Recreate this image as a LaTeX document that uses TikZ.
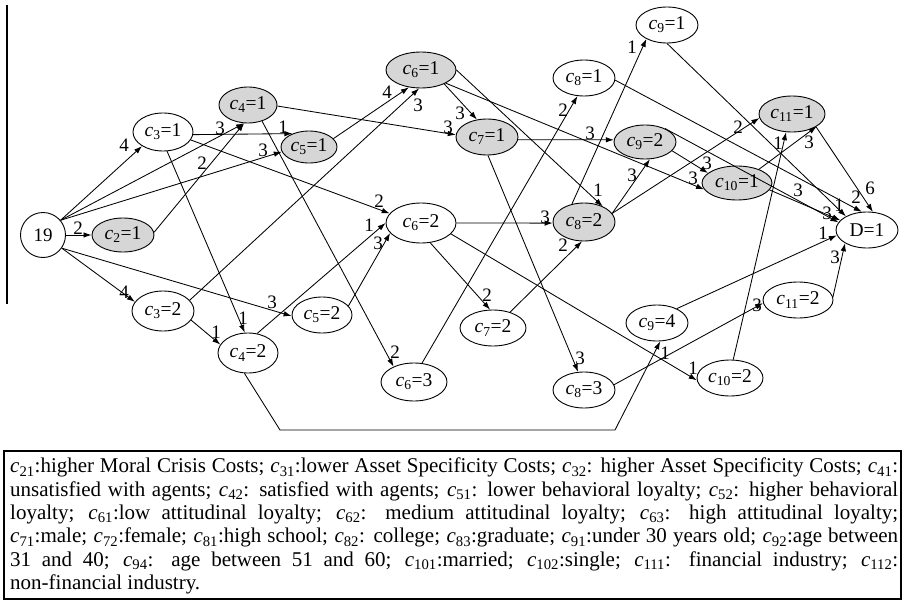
\documentclass[tikz,border=0pt]{standalone}
\usepackage{fontspec}
\setmainfont{Liberation Serif}
\usetikzlibrary{shapes.geometric,arrows.meta}
\newcommand{\csub}[1]{\textit{c}\textsubscript{#1}}
\begin{document}
\begin{tikzpicture}[x=1pt,y=-1pt,
  state/.style={ellipse, draw, line width=0.9pt, inner sep=0pt,
    font=\fontsize{19.5}{21}\selectfont},
  sz/.style 2 args={minimum width=#1, minimum height=#2},
  shaded/.style={fill=gray!32},
  arr/.style={-{Latex[length=8pt,width=5.5pt]}, line width=0.85pt},
  lbl/.style={inner sep=0pt, font=\fontsize{19}{21}\selectfont},
  frame/.style={line width=1.2pt}]
\useasboundingbox (0,0) rectangle (905,602);

% root and sink
\node[circle, draw, line width=0.9pt, minimum size=45pt, inner sep=0pt,
  font=\fontsize{19}{21}\selectfont] (n19) at (43,235) {19};
\node[state, sz={62pt}{36pt}] (D) at (867,230) {D=1};

% upper states
\node[state, shaded, sz={62pt}{34pt}] (c21) at (123,235) {\csub{2}=1};
\node[state, sz={60pt}{38pt}] (c31) at (163,132) {\csub{3}=1};
\node[state, shaded, sz={58pt}{36pt}] (c41) at (248,105) {\csub{4}=1};
\node[state, shaded, sz={56pt}{32pt}] (c51) at (309,147) {\csub{5}=1};
\node[state, shaded, sz={70pt}{36pt}] (c61) at (421,70) {\csub{6}=1};
\node[state, shaded, sz={62pt}{36pt}] (c71) at (487,137) {\csub{7}=1};
\node[state, sz={62pt}{36pt}] (c81) at (584,78) {\csub{8}=1};
\node[state, sz={62pt}{36pt}] (c91) at (667,25) {\csub{9}=1};
\node[state, shaded, sz={62pt}{34pt}] (c92) at (645,142) {\csub{9}=2};
\node[state, shaded, sz={70pt}{34pt}] (c101) at (737,183) {\csub{10}=1};
\node[state, shaded, sz={66pt}{36pt}] (c111) at (792,114) {\csub{11}=1};

% middle and lower states
\node[state, sz={70pt}{40pt}] (c62) at (421,223) {\csub{6}=2};
\node[state, shaded, sz={62pt}{38pt}] (c82) at (584,222) {\csub{8}=2};
\node[state, sz={62pt}{40pt}] (c32) at (163,311) {\csub{3}=2};
\node[state, sz={60pt}{40pt}] (c42) at (248,353) {\csub{4}=2};
\node[state, sz={60pt}{36pt}] (c52) at (322,315) {\csub{5}=2};
\node[state, sz={66pt}{38pt}] (c63) at (414,382) {\csub{6}=3};
\node[state, sz={66pt}{36pt}] (c72) at (493,328) {\csub{7}=2};
\node[state, sz={62pt}{36pt}] (c83) at (584,390) {\csub{8}=3};
\node[state, sz={62pt}{36pt}] (c94) at (657,323) {\csub{9}=4};
\node[state, sz={66pt}{36pt}] (c102) at (730,378) {\csub{10}=2};
\node[state, sz={70pt}{36pt}] (c112) at (798,300) {\csub{11}=2};

% bends of the lower detour
\coordinate (b1) at (280,430);
\coordinate (b2) at (615,430);

% connectors with their weights
\draw[arr] (n19.40) -- (c31.214) node[lbl] (w1) at (124,145) {4};
\draw[arr] (n19.40) -- (c41.258) node[lbl] (w2) at (220,128) {3};
\draw[arr] (n19.40) -- (c51.190) node[lbl] (w3) at (263,150) {3};
\draw[arr] (n19.east) -- (c21.west) node[lbl] (w4) at (78,228) {2};
\draw[arr] (n19.-35) -- (c32.162) node[lbl] (w5) at (124,292) {4};
\draw[arr] (n19.-35) -- (c52.182) node[lbl] (w6) at (272,302) {3};
\draw[arr] (c21.5) -- (c41.258) node[lbl] (w7) at (202,163) {2};
\draw[arr] (c31.-5) -- (c51.141) node[lbl] (w8) at (283,127) {1};
\draw[arr] (c31.-16) -- (c62.163) node[lbl] (w9) at (379,201) {2};
\draw[arr] (c31.-78) -- (c42.99) node[lbl] (w10) at (243,318) {1};
\draw[arr] (c41.-2) -- (c71.176) node[lbl] (w11) at (448,127) {3};
\draw[arr] (c41.-49) -- (c63.143) node[lbl] (w12) at (395,352) {2};
\draw[arr] (c51.19) -- (c61.235) node[lbl] (w13) at (387,92) {4};
\draw[arr] (c32.-18) -- (c42.163) node[lbl] (w14) at (216,332) {1};
\draw[arr] (c32.22) -- (c61.264) node[lbl] (w15) at (418,105) {3};
\draw[arr] (c42.65) -- (c62.180) node[lbl] (w16) at (369,225) {1};
\draw[arr] (c42.260) -- (b1) -- (b2) -- (c94.280) node[lbl] (w17) at (665,353) {1};
\draw[arr] (c52.19) -- (c62.198) node[lbl] (w18) at (378,243) {3};
\draw[arr] (c61.-31) -- (c71.120) node[lbl] (w19) at (460,113) {3};
\draw[arr] (c61.0) -- (c82.40) node[lbl] (w20) at (598,190) {1};
\draw[arr] (c61.-28) -- (c101.191) node[lbl] (w21) at (693,178) {3};
\draw[arr] (c71.-5) -- (c92.176) node[lbl] (w22) at (590,133) {3};
\draw[arr] (c71.-87) -- (c83.108) node[lbl] (w23) at (580,358) {3};
\draw[arr] (c62.0) -- (c82.182) node[lbl] (w24) at (545,217) {3};
\draw[arr] (c62.-65) -- (c72.99) node[lbl] (w25) at (487,295) {2};
\draw[arr] (c62.-20) -- (c102.184) node[lbl] (w26) at (693,368) {1};
\draw[arr] (c63.67) -- (c81.250) node[lbl] (w27) at (563,110) {2};
\draw[arr] (c72.43) -- (c82.264) node[lbl] (w28) at (563,245) {2};
\draw[arr] (c82.124) -- (c91.214) node[lbl] (w29) at (632,47) {1};
\draw[arr] (c82.17) -- (c92.286) node[lbl] (w30) at (632,175) {3};
\draw[arr] (c82.17) -- (c111.187) node[lbl] (w31) at (738,127) {2};
\draw[arr] (c81.-4) -- (D.106) node[lbl] (w32) at (856,197) {2};
\draw[arr] (c91.-90) -- (D.147) node[lbl] (w33) at (839,205) {1};
\draw[arr] (c92.34) -- (D.165) node[lbl] (w34) at (798,190) {3};
\draw[arr] (c92.-18) -- (c101.161) node[lbl] (w35) at (707,163) {3};
\draw[arr] (c101.32) -- (c111.-27) node[lbl] (w36) at (809,142) {3};
\draw[arr] (c101.-12) -- (D.160) node[lbl] (w37) at (827,213) {3};
\draw[arr] (c111.-28) -- (D.72) node[lbl] (w38) at (870,188) {6};
\draw[arr] (c102.80) -- (c111.252) node[lbl] (w39) at (778,143) {1};
\draw[arr] (c94.36) -- (D.190) node[lbl] (w40) at (823,233) {1};
\draw[arr] (c112.5) -- (D.211) node[lbl] (w41) at (835,257) {3};
\draw[arr] (c83.10) -- (c112.185) node[lbl] (w42) at (757,305) {3};

% left rule
\draw[frame] (7,5) -- (7,304);

% legend
\draw[frame] (4,451) rectangle (901,599);
\node[anchor=north west, text width=888pt, align=justify, inner sep=0pt,
  font=\fontsize{21}{23.3}\selectfont] (legend) at (10,458) {%
\csub{21}:higher Moral Crisis Costs; \csub{31}:lower Asset Specificity Costs; \csub{32}: higher Asset Specificity Costs; \csub{41}:\linebreak
unsatisfied with agents; \csub{42}: satisfied with agents; \csub{51}: lower behavioral loyalty; \csub{52}: higher behavioral\linebreak
loyalty; \csub{61}:low attitudinal loyalty; \csub{62}: medium attitudinal loyalty; \csub{63}: high attitudinal loyalty;\linebreak
\csub{71}:male; \csub{72}:female; \csub{81}:high school; \csub{82}: college; \csub{83}:graduate; \csub{91}:under 30 years old; \csub{92}:age between\linebreak
31 and 40; \csub{94}: age between 51 and 60; \csub{101}:married; \csub{102}:single; \csub{111}: financial industry; \csub{112}:\linebreak
non-financial industry.};
\end{tikzpicture}
\end{document}
